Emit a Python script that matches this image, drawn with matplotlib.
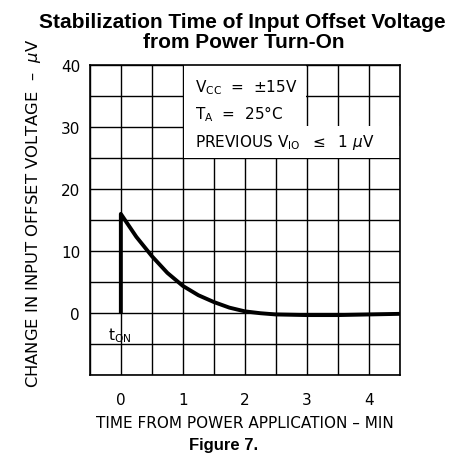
import matplotlib
matplotlib.use("Agg")
import matplotlib.pyplot as plt
from matplotlib.patches import Rectangle

# Data
time_min = [0.0, 0.0, 0.25, 0.5, 0.75, 1.0, 1.25, 1.5, 1.75, 2.0, 2.25, 2.5, 3.0, 3.5, 4.0, 4.5]
offset_uV = [0.0, 16.0, 12.3, 9.2, 6.5, 4.4, 2.9, 1.8, 0.9, 0.3, 0.0, -0.2, -0.3, -0.3, -0.2, -0.1]
x_ticks = [0, 1, 2, 3, 4]
y_ticks = [0, 10, 20, 30, 40]

fig = plt.figure(figsize=(4.56, 4.64), dpi=100)
ax = fig.add_axes([0.197, 0.189, 0.680, 0.669])

ax.set_xlim(-0.5, 4.5)
ax.set_ylim(-10, 40)

# grid every 0.5 min and 5 uV
for gx in [i * 0.5 - 0.5 for i in range(11)]:
    ax.axvline(gx, color="black", lw=1.0, zorder=1)
for gy in range(-10, 41, 5):
    ax.axhline(gy, color="black", lw=1.0, zorder=1)

# white areas behind annotation
ax.add_patch(Rectangle((1.02, 30.0), 1.96, 10.0, facecolor="white", edgecolor="none", zorder=2))
ax.add_patch(Rectangle((1.02, 25.08), 3.48, 5.0, facecolor="white", edgecolor="none", zorder=2))

ax.plot(time_min, offset_uV, color="black", lw=2.8, zorder=3, solid_capstyle="butt")

lblfont = dict(family="DejaVu Sans", fontsize=11)
ax.text(1.2, 36.5, r"V$_{\mathregular{CC}}$  =  $\pm$15V", va="center", ha="left", zorder=4, **lblfont)
ax.text(1.2, 32.3, r"T$_{\mathregular{A}}$  =  25°C", va="center", ha="left", zorder=4, **lblfont)
ax.text(1.2, 27.6, r"PREVIOUS V$_{\mathregular{IO}}$  $\leq$  1 $\mu$V", va="center", ha="left", zorder=4, **lblfont)
ax.text(-0.21, -3.4, r"t$_{\mathregular{ON}}$", va="center", ha="left", zorder=4, **lblfont)

ax.set_xticks(x_ticks)
ax.set_yticks(y_ticks)
ax.set_xticklabels([str(v) for v in x_ticks], **lblfont)
ax.set_yticklabels([str(v) for v in y_ticks], **lblfont)
ax.tick_params(axis="x", length=0, pad=12)
ax.tick_params(axis="y", length=0, pad=7)
for s in ax.spines.values():
    s.set_linewidth(1.2)
    s.set_zorder(5)

ax.set_xlabel("TIME FROM POWER APPLICATION – MIN", labelpad=6, **lblfont)
ax.set_ylabel(r"CHANGE IN INPUT OFFSET VOLTAGE  –  $\mu$V", family="DejaVu Sans", fontsize=11.8)
ax.yaxis.set_label_coords(-0.152, 0.524)

fig.text(0.532, 0.951, "Stabilization Time of Input Offset Voltage", ha="center", va="center",
         family="Liberation Sans", fontweight="bold", fontsize=15)
fig.text(0.535, 0.909, "from Power Turn-On", ha="center", va="center",
         family="Liberation Sans", fontweight="bold", fontsize=15)
fig.text(0.490, 0.040, "Figure 7.", ha="center", va="center",
         family="Liberation Sans", fontweight="bold", fontsize=12)

fig.savefig("out.png", dpi=100)
